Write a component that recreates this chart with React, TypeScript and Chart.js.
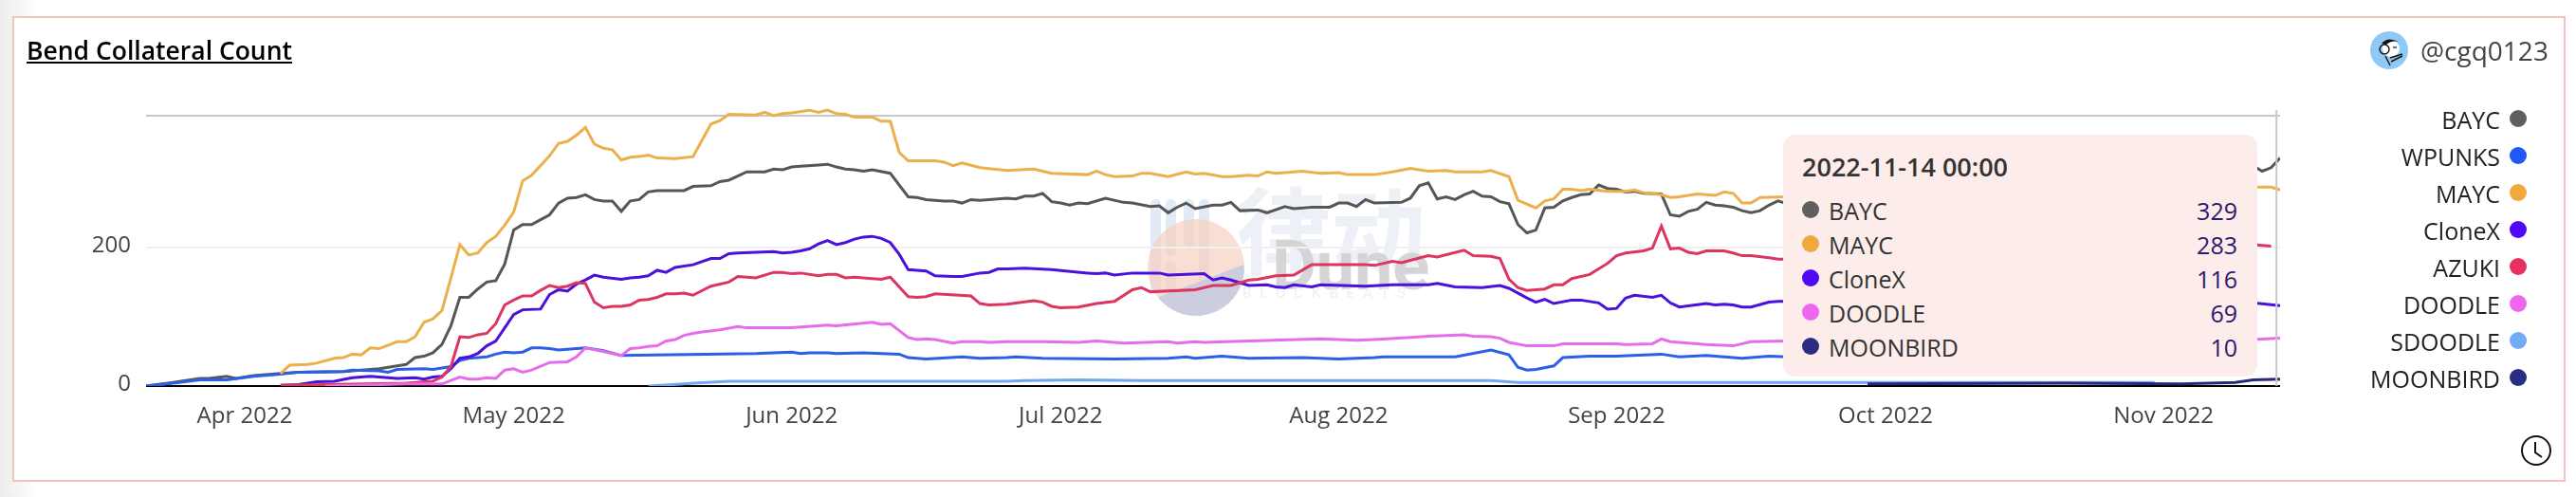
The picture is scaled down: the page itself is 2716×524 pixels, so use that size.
import React, { useEffect, useRef } from "react";
import { Chart, registerables } from "chart.js";

Chart.register(...registerables);

const FONT = "'Open Sans', sans-serif";

const monthDays = [11, 41, 72, 102, 133, 164, 194, 225];
const monthLabels = ["Apr 2022", "May 2022", "Jun 2022", "Jul 2022", "Aug 2022", "Sep 2022", "Oct 2022", "Nov 2022"];
const lastDay = 238;
const yTicks = [0, 200];
const yTop = 390;
const crosshairDay = 237.6;

const bayc = [[0,0],[3,5],[6,11],[7,11],[9,14],[10,11],[12,15],[15,18],[17,20],[22,21],[26,25],[28,29],[29,31],[30,41],[31,43],[32,48],[33,60],[34,87],[35,128],[36,128],[37,140],[38,150],[39,152],[40,176],[41,225],[42,233],[43,233],[44,240],[45,247],[46,264],[47,271],[48,272],[49,276],[50,269],[51,267],[52,267],[53,252],[54,267],[55,269],[56,280],[57,282],[60,282],[61,288],[63,289],[64,295],[65,297],[67,309],[69,309],[70,313],[71,312],[72,316],[73,317],[75,319],[76,320],[77,316],[78,313],[79,312],[80,310],[81,312],[83,307],[84,290],[85,273],[86,272],[87,269],[89,267],[90,267],[91,264],[92,269],[93,268],[96,271],[97,270],[98,274],[99,274],[100,278],[101,266],[102,264],[103,261],[104,264],[105,263],[107,271],[109,265],[110,264],[112,259],[113,260],[114,250],[115,258],[116,264],[117,256],[119,261],[120,261],[121,265],[122,253],[124,254],[125,250],[127,259],[128,256],[130,258],[132,258],[133,264],[134,264],[135,259],[136,269],[137,264],[140,265],[141,271],[142,289],[143,293],[144,270],[145,273],[146,269],[147,276],[148,281],[149,274],[150,273],[151,266],[152,263],[153,233],[154,221],[155,225],[156,257],[157,258],[158,267],[159,272],[160,276],[161,277],[162,290],[163,285],[164,284],[165,280],[166,281],[167,278],[169,277],[170,247],[171,245],[172,252],[173,255],[174,265],[175,261],[176,260],[177,258],[178,253],[179,250],[180,253],[181,261],[182,267],[183,263],[195,270],[210,275],[225,290],[235,318],[236,310],[237,315],[238,329]];
const wpunks = [[0,0],[3,4],[6,9],[9,9],[12,14],[15,17],[17,20],[22,21],[23,23],[26,22],[27,20],[28,24],[31,25],[32,24],[34,28],[35,37],[36,40],[38,42],[39,46],[40,49],[41,48],[42,49],[43,55],[44,55],[45,54],[46,52],[48,54],[49,55],[51,51],[53,44],[68,47],[72,49],[73,47],[74,48],[76,48],[77,47],[80,48],[84,46],[85,41],[87,39],[91,42],[93,40],[96,41],[97,42],[100,40],[108,39],[114,40],[116,42],[117,40],[120,43],[123,40],[129,41],[133,39],[137,41],[138,42],[143,42],[146,42],[150,52],[152,45],[153,27],[154,23],[155,24],[157,29],[158,41],[161,43],[164,43],[169,46],[171,42],[174,44],[178,40],[181,43],[183,42],[200,41],[220,40],[234,41]];
const mayc = [[15,18],[16,30],[18,31],[19,33],[21,40],[22,41],[23,46],[24,45],[25,55],[26,54],[28,64],[29,64],[30,71],[31,92],[32,97],[33,109],[34,156],[35,204],[36,189],[37,192],[38,207],[39,216],[40,232],[41,251],[42,296],[43,304],[45,332],[46,350],[47,353],[48,362],[49,373],[50,349],[51,343],[52,341],[53,326],[54,330],[55,331],[56,333],[57,329],[59,328],[61,331],[63,378],[64,383],[65,392],[68,391],[69,395],[70,390],[71,393],[72,394],[74,398],[75,395],[76,398],[77,393],[78,392],[79,388],[81,388],[82,382],[83,382],[84,337],[85,325],[88,325],[89,323],[90,318],[91,322],[93,315],[96,311],[99,313],[101,307],[105,305],[106,310],[107,305],[108,302],[110,303],[111,307],[112,307],[114,302],[116,309],[117,306],[118,307],[120,302],[121,302],[123,304],[124,303],[125,309],[126,307],[129,310],[131,307],[133,308],[134,305],[137,305],[139,309],[141,314],[143,310],[145,311],[146,309],[149,309],[150,311],[152,302],[153,268],[155,257],[156,267],[157,270],[158,284],[159,284],[160,282],[161,284],[163,281],[165,281],[166,283],[167,279],[169,276],[170,272],[171,273],[173,277],[174,276],[175,275],[176,280],[177,278],[178,264],[179,264],[180,272],[183,273],[200,282],[220,285],[235,287],[237,287],[238,283]];
const clonex = [[15,1],[17,2],[19,6],[21,7],[23,12],[25,14],[28,11],[30,12],[31,10],[32,13],[33,14],[34,25],[35,40],[36,42],[37,47],[38,58],[39,65],[40,84],[41,103],[42,110],[44,111],[45,132],[46,139],[47,137],[48,147],[49,153],[50,160],[51,157],[53,154],[54,156],[55,157],[56,159],[57,167],[58,164],[59,171],[61,175],[63,184],[64,184],[65,191],[66,192],[70,194],[71,192],[72,193],[73,195],[74,198],[75,205],[76,210],[77,204],[78,207],[79,212],[80,215],[81,216],[82,213],[83,207],[84,190],[85,168],[87,166],[88,159],[90,158],[91,158],[93,163],[94,164],[95,169],[96,169],[98,170],[101,168],[105,163],[106,162],[107,163],[108,160],[110,163],[113,163],[114,160],[118,162],[119,153],[120,156],[121,153],[123,145],[125,146],[126,143],[127,142],[128,146],[130,143],[131,146],[136,144],[139,146],[143,146],[144,148],[146,143],[149,142],[151,145],[152,141],[154,127],[155,121],[156,125],[157,119],[159,124],[160,124],[162,120],[163,111],[164,112],[165,127],[166,131],[168,128],[169,131],[170,120],[171,114],[174,119],[175,117],[176,118],[177,117],[178,114],[179,114],[181,121],[182,122],[183,122],[200,124],[220,120],[235,120],[238,116]];
const azuki = [[15,1],[20,2],[29,4],[32,7],[33,13],[34,28],[35,71],[36,70],[37,74],[38,76],[39,90],[40,117],[41,124],[42,130],[43,130],[44,138],[45,145],[46,142],[47,144],[48,149],[49,148],[50,121],[51,113],[52,115],[53,115],[54,117],[55,124],[56,125],[57,128],[58,133],[59,133],[60,134],[61,131],[63,144],[65,150],[66,158],[68,156],[70,164],[71,164],[72,162],[73,163],[75,159],[76,161],[77,161],[78,156],[79,157],[82,154],[83,157],[85,129],[86,128],[87,129],[88,133],[92,130],[93,119],[94,117],[96,118],[99,123],[100,121],[101,115],[102,113],[104,114],[106,119],[108,122],[110,139],[111,142],[112,136],[117,139],[119,145],[121,145],[123,153],[124,154],[126,159],[128,160],[130,175],[136,175],[137,174],[139,180],[140,178],[143,188],[144,186],[147,196],[148,188],[150,187],[151,184],[152,154],[153,142],[154,138],[156,140],[157,146],[158,146],[159,155],[161,161],[163,177],[164,188],[165,192],[167,195],[168,199],[169,231],[170,198],[171,199],[172,193],[173,191],[174,195],[176,195],[177,192],[178,188],[179,188],[181,185],[182,183],[183,183],[200,190],[220,198],[235,204],[237,202]];
const doodle = [[20,0],[29,3],[33,3],[34,8],[35,13],[36,10],[37,10],[38,12],[39,11],[40,23],[41,25],[42,20],[43,23],[45,34],[47,35],[48,42],[49,55],[51,50],[53,44],[54,54],[55,55],[56,57],[57,58],[58,65],[59,67],[60,73],[61,76],[62,78],[64,81],[66,86],[67,84],[72,84],[76,88],[77,87],[81,92],[82,89],[83,90],[85,70],[86,67],[87,68],[88,67],[90,62],[91,64],[93,64],[94,63],[96,64],[100,64],[104,63],[106,65],[109,62],[114,64],[115,62],[117,64],[118,63],[123,65],[131,68],[135,66],[137,67],[141,70],[143,72],[145,73],[147,74],[148,72],[150,71],[151,69],[152,63],[154,58],[157,58],[158,61],[161,61],[163,61],[164,61],[165,60],[168,61],[169,68],[170,64],[174,60],[177,58],[179,64],[183,65],[200,66],[220,66],[235,67],[238,69]];
const sdoodle = [[56,0],[60,3],[61,4],[65,7],[96,7],[98,8],[104,9],[111,8],[150,8],[153,5],[178,5],[192,5],[224,5]];
const moonbird = [[192,3],[214,4],[227,3],[233,5],[235,9],[238,10]];

const seriesNames = ["BAYC", "WPUNKS", "MAYC", "CloneX", "AZUKI", "DOODLE", "SDOODLE", "MOONBIRD"];
const seriesData = [bayc, wpunks, mayc, clonex, azuki, doodle, sdoodle, moonbird];
const lineColors = ["#565656", "#2a5fe6", "#ebb04c", "#4a10dc", "#dc3560", "#e76ceb", "#70a8ee", "#26297a"];
const legendColors = ["#5f5f5f", "#2158f5", "#f0a93c", "#5008f6", "#e8305f", "#ee66f0", "#70abf8", "#2b2d80"];

const tipTitle = "2022-11-14 00:00";
const tipNames = ["BAYC", "MAYC", "CloneX", "DOODLE", "MOONBIRD"];
const tipValues = [329, 283, 116, 69, 10];
const tipColors = ["#5f5f5f", "#f0a93c", "#5008f6", "#ee66f0", "#2b2d80"];

const crosshair = {
  id: "crosshair",
  afterDatasetsDraw(chart: any) {
    const x = chart.scales.x.getPixelForValue(crosshairDay);
    const { top, bottom } = chart.chartArea;
    const c = chart.ctx;
    c.save();
    c.strokeStyle = "#c8c8c8";
    c.lineWidth = 2;
    c.beginPath();
    c.moveTo(x, top - 6);
    c.lineTo(x, bottom);
    c.stroke();
    c.restore();
  },
};

function Watermark() {
  return (
    <svg width={2716} height={524} style={{ position: "absolute", left: 0, top: 0 }}>
      <defs>
        <clipPath id="disc"><circle cx={1261} cy={282} r={51} /></clipPath>
      </defs>
      <g fill="#e3eaf7">
        <rect x={1213} y={210} width={11} height={100} rx={5} />
        <rect x={1229} y={210} width={11} height={60} rx={5} />
        <rect x={1248} y={210} width={11} height={50} rx={5} />
        <rect x={1264} y={210} width={11} height={60} rx={5} />
        <rect x={1229} y={276} width={11} height={36} rx={5} />
        <rect x={1264} y={266} width={11} height={46} rx={5} />
      </g>
      <circle cx={1261} cy={282} r={51} fill="#f6ccbb" opacity={0.65} />
      <polygon points="1311,279 1222,313 1190,345 1320,345" fill="#c6cce0" opacity={0.9} clipPath="url(#disc)" />
      <text x={1303} y={282} fontFamily="'Noto Sans CJK SC'" fontWeight={700} fontSize={100} fill="#edf0f6">律动</text>
      <text x={1341} y={305} fontFamily="Roboto" fontWeight={700} fontSize={72} fill="#d0d0d0" opacity={0.85}>Dune</text>
      <text x={1310} y={314} fontFamily="Roboto" fontWeight={400} fontSize={15} letterSpacing={9} fill="#eef0f5">BLOCKBEATS</text>
    </svg>
  );
}

function Avatar() {
  return (
    <svg width={40} height={40} viewBox="0 0 40 40" style={{ position: "absolute", left: 2499, top: 33 }}>
      <circle cx={20} cy={20} r={20} fill="#8fc9f5" />
      <circle cx={22} cy={18} r={9} fill="#fff" />
      <path d="M12 13 Q18 5 30 11 Q22 9 17 14 Z" fill="#111" />
      <circle cx={15} cy={19} r={5} fill="none" stroke="#111" strokeWidth={1.4} />
      <path d="M16 26 L21 36 M21 28 L34 24 M22 32 L34 26" stroke="#111" strokeWidth={1.4} fill="none" />
      <path d="M24 17 h4" stroke="#111" strokeWidth={1.2} />
    </svg>
  );
}

function Clock() {
  return (
    <svg width={34} height={34} viewBox="0 0 34 34" style={{ position: "absolute", left: 2657, top: 458 }}>
      <circle cx={17} cy={17} r={15} fill="none" stroke="#111" strokeWidth={2} />
      <path d="M16 8 V19 L23 24" fill="none" stroke="#111" strokeWidth={2} />
    </svg>
  );
}

export default function App() {
  const ref = useRef<HTMLCanvasElement>(null);
  useEffect(() => {
    const chart = new Chart(ref.current!, {
      type: "line",
      data: {
        datasets: seriesNames.map((name, i) => ({
          label: name,
          data: seriesData[i].map(([x, y]) => ({ x, y })),
          borderColor: lineColors[i],
          borderWidth: 3,
          pointRadius: 0,
          tension: 0,
          order: seriesNames.length - i,
          clip: { left: 0, right: 0, top: 20, bottom: 0 },
        })),
      },
      options: {
        responsive: false,
        animation: false,
        events: [],
        layout: { padding: { left: 0, top: 122, right: 312, bottom: 57 } },
        plugins: { legend: { display: false }, tooltip: { enabled: false } },
        scales: {
          x: {
            type: "linear",
            min: 0,
            max: lastDay,
            afterBuildTicks: (s: any) => { s.ticks = monthDays.map((value) => ({ value })); },
            afterFit: (s: any) => { s.height = 60; },
            grid: { display: false },
            border: { display: false },
            ticks: {
              autoSkip: false,
              maxRotation: 0,
              padding: 10,
              color: "#444",
              font: { family: FONT, size: 24 },
              callback: (v: any) => monthLabels[monthDays.indexOf(v)] ?? "",
            },
          },
          y: {
            type: "linear",
            min: 0,
            max: yTop,
            afterBuildTicks: (s: any) => { s.ticks = [...yTicks, yTop].map((value) => ({ value })); },
            afterFit: (s: any) => { s.width = 154; },
            border: { display: false },
            grid: {
              drawTicks: false,
              lineWidth: 2,
              color: (ctx: any) => ctx.tick.value === 0 ? "#000" : ctx.tick.value === yTop ? "#c8c8c8" : "#f0f0f0",
            },
            ticks: {
              padding: 16,
              labelOffset: -2,
              color: "#444",
              font: { family: FONT, size: 24 },
              callback: (v: any) => (yTicks.includes(v) ? String(v) : ""),
            },
          },
        },
      },
      plugins: [crosshair],
    } as any);
    return () => chart.destroy();
  }, []);

  return (
    <div style={{ position: "absolute", left: 0, top: 0, width: 2716, height: 524, overflow: "hidden", background: "#fff", fontFamily: FONT }}>
      <div style={{ position: "absolute", left: 0, top: 0, width: 40, height: 524, background: "linear-gradient(90deg,#ececec,#fff)" }} />
      <div style={{ position: "absolute", left: 13, top: 17, width: 2692, height: 491, boxSizing: "border-box", border: "2.5px solid #edc5bd", background: "#fff" }} />
      <Watermark />
      <canvas ref={ref} width={2716} height={524} style={{ position: "absolute", left: 0, top: 0, display: "block" }} />
      <div style={{ position: "absolute", left: 28, top: 35, fontSize: 26.5, lineHeight: "36px", fontWeight: 600, color: "#000", textDecoration: "underline", whiteSpace: "nowrap" }}>Bend Collateral Count</div>
      <Avatar />
      <div style={{ position: "absolute", left: 2552, top: 35, fontSize: 28, lineHeight: "36px", color: "#444", whiteSpace: "nowrap" }}>@cgq0123</div>
      {seriesNames.map((name, i) => (
        <React.Fragment key={name}>
          <div style={{ position: "absolute", right: 2716 - 2636, top: 126 + 39 * i - 16, lineHeight: "32px", fontSize: 25, color: "#222", whiteSpace: "nowrap" }}>{name}</div>
          <div style={{ position: "absolute", left: 2646, top: 125 + 39 * i - 9, width: 18, height: 18, borderRadius: 9, background: legendColors[i] }} />
        </React.Fragment>
      ))}
      <Clock />
      <div style={{ position: "absolute", left: 1880, top: 142, width: 500, height: 255, borderRadius: 13, background: "#fcecea" }}>
        <div style={{ position: "absolute", left: 20, top: 18, lineHeight: "32px", fontSize: 27, fontWeight: 600, color: "#333", whiteSpace: "nowrap" }}>{tipTitle}</div>
        {tipNames.map((name, i) => (
          <React.Fragment key={name}>
            <div style={{ position: "absolute", left: 20, top: 79 + 36 * i - 9 + 0, width: 18, height: 18, borderRadius: 9, background: tipColors[i] }} />
            <div style={{ position: "absolute", left: 48, top: 80 + 36 * i - 16, lineHeight: "32px", fontSize: 25, color: "#333", whiteSpace: "nowrap" }}>{name}</div>
            <div style={{ position: "absolute", right: 21, top: 80 + 36 * i - 16, lineHeight: "32px", fontSize: 25, color: "#2a1a70", whiteSpace: "nowrap" }}>{tipValues[i]}</div>
          </React.Fragment>
        ))}
      </div>
    </div>
  );
}
